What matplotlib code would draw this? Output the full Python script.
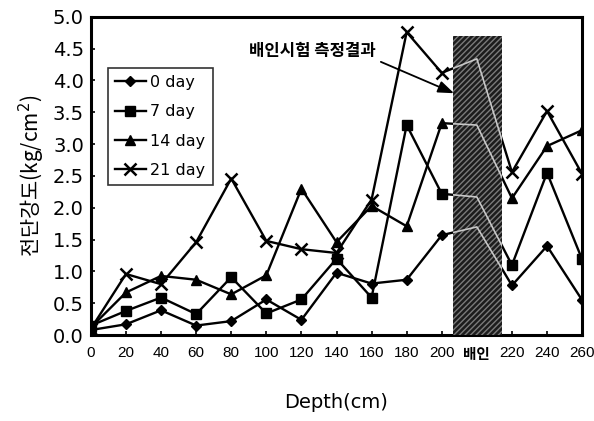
import matplotlib
matplotlib.use("Agg")
import matplotlib.pyplot as plt
from matplotlib.patches import Rectangle
import numpy as np

plt.rcParams['font.family'] = ['DejaVu Sans', 'Noto Sans CJK KR']

# Depth categories (the 배인 column sits between 200 and 220 cm)
depth_labels = ['0', '20', '40', '60', '80', '100', '120', '140', '160', '180',
                '200', '배인', '220', '240', '260']

day0 = [0.08, 0.17, 0.39, 0.15, 0.22, 0.56, 0.24, 0.98, 0.81, 0.87, 1.57, 1.70, 0.78, 1.40, 0.55]
day7 = [0.15, 0.38, 0.59, 0.33, 0.91, 0.34, 0.56, 1.20, 0.59, 3.30, 2.22, 2.17, 1.10, 2.55, 1.19]
day14 = [0.12, 0.67, 0.93, 0.87, 0.64, 0.94, 2.30, 1.46, 2.03, 1.71, 3.33, 3.30, 2.15, 2.97, 3.22]
day21 = [0.10, 0.96, 0.80, 1.46, 2.46, 1.48, 1.35, 1.29, 2.13, 4.76, 4.12, 4.34, 2.56, 3.52, 2.53]

series_names = ['0 day', '7 day', '14 day', '21 day']
series_values = [day0, day7, day14, day21]
series_markers = ['D', 's', '^', 'x']
series_msize = [5, 6.5, 6.5, 8]

# extent of the shaded 배인 column
band_left, band_right, band_top = 10.33, 11.73, 4.70

yticks = [0.0, 0.5, 1.0, 1.5, 2.0, 2.5, 3.0, 3.5, 4.0, 4.5, 5.0]

fig = plt.figure(figsize=(5.94, 4.21), dpi=100)
ax = fig.add_axes([0.153, 0.204, 0.827, 0.756])

x = np.arange(len(depth_labels))
handles = []
for name, vals, mk, ms in zip(series_names, series_values, series_markers, series_msize):
    h, = ax.plot(x, vals, color='black', lw=1.7, marker=mk, ms=ms,
                 mew=1.8 if mk == 'x' else 1.0, mfc='black', mec='black',
                 label=name, zorder=2)
    handles.append(h)

# dark textured column over the lines
band = Rectangle((band_left, 0), band_right - band_left, band_top,
                 facecolor='#1c1c1c', edgecolor='#7a7a7a', hatch='//////',
                 lw=0, zorder=3)
ax.add_patch(band)
for vals in series_values:
    ln, = ax.plot(x, vals, color='#c8c8c8', lw=1.2, zorder=4)
    ln.set_clip_path(band)

ax.set_xlim(0, len(depth_labels) - 1)
ax.set_ylim(0, 5.0)
ax.set_xticks(x)
ax.set_xticklabels(depth_labels, fontsize=11)
for lab in ax.get_xticklabels():
    if lab.get_text() == '배인':
        lab.set_family(['Noto Sans CJK KR'])
        lab.set_fontweight('bold')
        lab.set_fontsize(10.5)
    else:
        lab.set_family(['Liberation Sans', 'DejaVu Sans'])
ax.set_yticks(yticks)
ax.set_yticklabels([f'{v:.1f}' for v in yticks], fontsize=14)
ax.tick_params(axis='both', direction='in', length=3, width=1.2, pad=8)
ax.tick_params(axis='y', pad=5)
for sp in ax.spines.values():
    sp.set_linewidth(2.2)

ax.set_xlabel('Depth(cm)', fontsize=14, labelpad=22)
ax.set_ylabel('전단강도(kg/cm$^2$)', fontsize=15, family=['Noto Sans CJK KR'],
              labelpad=4)

leg = ax.legend(handles=handles, loc='upper left', bbox_to_anchor=(0.035, 0.84),
                fontsize=11.5, frameon=True, fancybox=False, edgecolor='black',
                handlelength=1.9, handletextpad=0.3, borderpad=0.45,
                labelspacing=0.9, borderaxespad=0)
leg.get_frame().set_linewidth(1.2)

ax.annotate('배인시험 측정결과', xy=(band_left + 0.02, 3.8), xytext=(4.5, 4.47),
            fontsize=12, fontweight='bold', family=['Noto Sans CJK KR'],
            ha='left', va='center', zorder=6,
            arrowprops=dict(arrowstyle='-|>,head_length=0.8,head_width=0.3',
                            color='black', lw=1.3, shrinkA=2, shrinkB=0,
                            relpos=(1.0, 0.0)))

fig.savefig('out.png', dpi=100)
